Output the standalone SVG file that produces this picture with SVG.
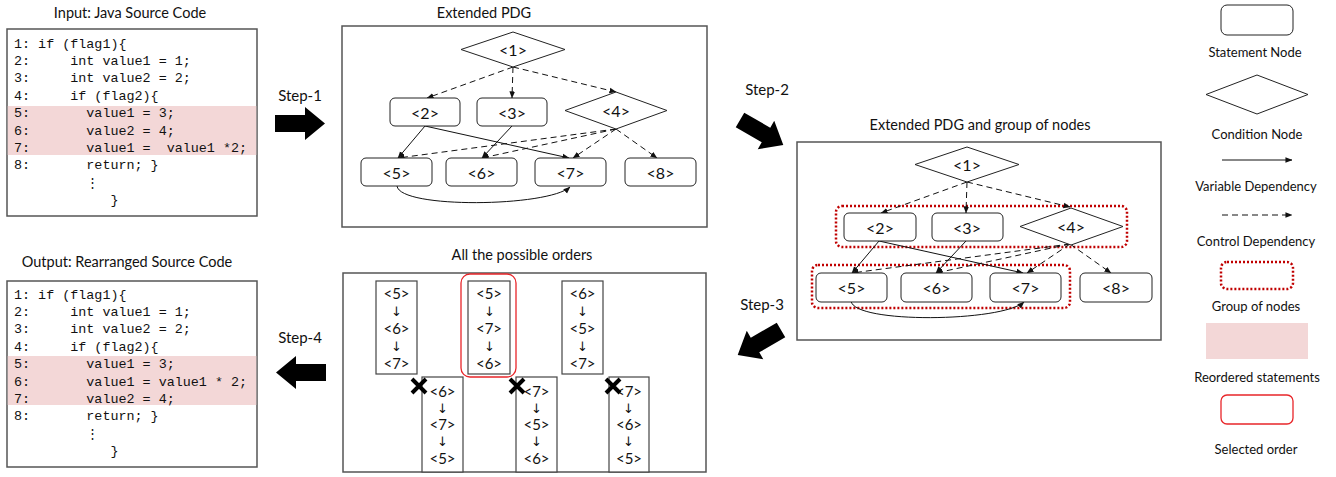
<svg xmlns="http://www.w3.org/2000/svg" width="1336" height="477" viewBox="0 0 1336 477">
  <style>
    .lbl { font-family: Lato, "Liberation Sans", sans-serif; font-size: 13px; fill: #111; text-anchor: middle; }
    .ttl { font-family: Lato, "Liberation Sans", sans-serif; font-size: 14.5px; fill: #111; text-anchor: middle; }
    .stp { font-family: Lato, "Liberation Sans", sans-serif; font-size: 15px; fill: #111; text-anchor: middle; }
    .nd { font-family: Lato, "Liberation Sans", sans-serif; font-size: 16px; fill: #111; text-anchor: middle; dominant-baseline: central; }
    .ord { font-family: Lato, "Liberation Sans", sans-serif; font-size: 15px; fill: #111; text-anchor: middle; dominant-baseline: central; }
    .dn { font-family: "DejaVu Sans", sans-serif; font-size: 13px; fill: #111; text-anchor: middle; dominant-baseline: central; }
    .code { font-family: "Liberation Mono", "DejaVu Sans Mono", monospace; font-size: 13.4px; fill: #111; white-space: pre; }
    .frame { fill: #fff; stroke: #555; stroke-width: 1.5; }
    .stmt { fill: #fff; stroke: #222; stroke-width: 1; }
    .cond { fill: #fff; stroke: #222; stroke-width: 1; }
    .hl { fill: #f3d7d7; }
    .var { fill: none; stroke: #111; stroke-width: 1; marker-end: url(#tip); }
    .ctl { fill: none; stroke: #111; stroke-width: 1; stroke-dasharray: 6 4; marker-end: url(#tip); }
    .grp { fill: none; stroke: #c00000; stroke-width: 2.5; stroke-dasharray: 2 2; }
    .sel { fill: none; stroke: #e8262a; stroke-width: 1.3; }
    .col { fill: #fff; stroke: #444; stroke-width: 1.2; }
    .step { fill: #000; }
    .cross { stroke: #000; stroke-width: 4; }
  </style>
  <defs>
    <marker id="tip" viewBox="0 0 8 8" refX="7.5" refY="4" markerWidth="7" markerHeight="7" markerUnits="userSpaceOnUse" orient="auto">
      <path d="M0,0.8 L8,4 L0,7.2 Z" fill="#111"/>
    </marker>
    <polygon id="blockArrow" points="0,-8.5 30,-8.5 30,-16.5 50,0 30,16.5 30,8.5 0,8.5"/>
  </defs>

  <!-- Input source code -->
  <g id="input-code">
    <text class="ttl" x="130" y="18">Input: Java Source Code</text>
    <rect class="frame" x="7" y="29" width="250" height="187"/>
    <rect class="hl" x="7.75" y="106" width="248.5" height="49"/>
    <text class="code" x="14" y="47.5">1: if (flag1){</text>
    <text class="code" x="14" y="64.9">2:     int value1 = 1;</text>
    <text class="code" x="14" y="82.3">3:     int value2 = 2;</text>
    <text class="code" x="14" y="99.7">4:     if (flag2){</text>
    <text class="code" x="14" y="117.1">5:       value1 = 3;</text>
    <text class="code" x="14" y="134.5">6:       value2 = 4;</text>
    <text class="code" x="14" y="151.9">7:       value1 =  value1 *2;</text>
    <text class="code" x="14" y="169.3">8:       return; }</text>
    <text class="code" x="14" y="186.7">         ⋮</text>
    <text class="code" x="14" y="204.1">            }</text>
  </g>

  <!-- Output source code -->
  <g id="output-code" transform="translate(0,251)">
    <text class="ttl" x="127" y="16">Output: Rearranged Source Code</text>
    <rect class="frame" x="7" y="30" width="250" height="186"/>
    <rect class="hl" x="7.75" y="105" width="248.5" height="49"/>
    <text class="code" x="14" y="47.5">1: if (flag1){</text>
    <text class="code" x="14" y="64.9">2:     int value1 = 1;</text>
    <text class="code" x="14" y="82.3">3:     int value2 = 2;</text>
    <text class="code" x="14" y="99.7">4:     if (flag2){</text>
    <text class="code" x="14" y="117.1">5:       value1 = 3;</text>
    <text class="code" x="14" y="134.5">6:       value1 = value1 * 2;</text>
    <text class="code" x="14" y="151.9">7:       value2 = 4;</text>
    <text class="code" x="14" y="169.3">8:       return; }</text>
    <text class="code" x="14" y="186.7">         ⋮</text>
    <text class="code" x="14" y="204.1">            }</text>
  </g>

  <!-- Step arrows -->
  <g id="step-1">
    <text class="stp" x="300" y="101">Step-1</text>
    <use href="#blockArrow" class="step" transform="translate(275,123.5)"/>
  </g>
  <g id="step-2">
    <text class="stp" x="767" y="95">Step-2</text>
    <use href="#blockArrow" class="step" transform="translate(740,120) rotate(30)"/>
  </g>
  <g id="step-3">
    <text class="stp" x="762" y="310">Step-3</text>
    <use href="#blockArrow" class="step" transform="translate(781,330) rotate(150)"/>
  </g>
  <g id="step-4">
    <text class="stp" x="300" y="343">Step-4</text>
    <use href="#blockArrow" class="step" transform="translate(326,372.5) rotate(180)"/>
  </g>

  <!-- Extended PDG -->
  <g id="pdg">
    <text class="ttl" x="484" y="18">Extended PDG</text>
    <rect class="frame" x="342" y="26" width="365" height="201"/>
    <g id="pdg-connectors">
      <path class="ctl" d="M513,67 L427,98"/>
      <path class="ctl" d="M513,67 L512,98"/>
      <path class="ctl" d="M513,67 L616,92"/>
      <path class="ctl" d="M616,129 L398,158"/>
      <path class="ctl" d="M616,129 L482,158"/>
      <path class="ctl" d="M616,129 L573,158"/>
      <path class="ctl" d="M616,129 L657,158"/>
      <path class="var" d="M425,126 L398,158"/>
      <path class="var" d="M425,126 L569,158"/>
      <path class="var" d="M512,126 L482,158"/>
      <path class="var" d="M397,186 C400,209 548,207 570,187"/>
    </g>
    <g id="pdg-n1"><polygon class="cond" points="461,49.5 513,32 565,49.5 513,67"/><text class="nd" x="513" y="49.5">&lt;1&gt;</text></g>
    <g id="pdg-n2"><rect class="stmt" x="390" y="98" width="70" height="28" rx="5"/><text class="nd" x="425" y="112">&lt;2&gt;</text></g>
    <g id="pdg-n3"><rect class="stmt" x="477" y="98" width="70" height="28" rx="5"/><text class="nd" x="512" y="112">&lt;3&gt;</text></g>
    <g id="pdg-n4"><polygon class="cond" points="565,110.5 616,92 667,110.5 616,129"/><text class="nd" x="616" y="110.5">&lt;4&gt;</text></g>
    <g id="pdg-n5"><rect class="stmt" x="361" y="158" width="71" height="28" rx="5"/><text class="nd" x="396.5" y="172">&lt;5&gt;</text></g>
    <g id="pdg-n6"><rect class="stmt" x="446" y="158" width="71" height="28" rx="5"/><text class="nd" x="481.5" y="172">&lt;6&gt;</text></g>
    <g id="pdg-n7"><rect class="stmt" x="535" y="158" width="71" height="28" rx="5"/><text class="nd" x="570.5" y="172">&lt;7&gt;</text></g>
    <g id="pdg-n8"><rect class="stmt" x="625" y="158" width="71" height="28" rx="5"/><text class="nd" x="660.5" y="172">&lt;8&gt;</text></g>
  </g>

  <!-- Extended PDG with node groups -->
  <g id="pdg-groups">
    <text class="ttl" x="980" y="130">Extended PDG and group of nodes</text>
    <g transform="translate(454,115)">
      <rect class="frame" x="343" y="27" width="364" height="198"/>
      <rect class="grp" x="382" y="91" width="291" height="41" rx="6"/>
      <rect class="grp" x="358" y="150" width="258" height="43" rx="6"/>
      <g id="grp-connectors">
        <path class="ctl" d="M513,67 L427,98"/>
        <path class="ctl" d="M513,67 L512,98"/>
        <path class="ctl" d="M513,67 L616,92"/>
        <path class="ctl" d="M616,129 L398,158"/>
        <path class="ctl" d="M616,129 L482,158"/>
        <path class="ctl" d="M616,129 L573,158"/>
        <path class="ctl" d="M616,129 L657,158"/>
        <path class="var" d="M425,126 L398,158"/>
        <path class="var" d="M425,126 L569,158"/>
        <path class="var" d="M512,126 L482,158"/>
        <path class="var" d="M397,186 C400,209 548,207 570,187"/>
      </g>
      <g id="grp-n1"><polygon class="cond" points="461,49.5 513,32 565,49.5 513,67"/><text class="nd" x="513" y="49.5">&lt;1&gt;</text></g>
      <g id="grp-n2"><rect class="stmt" x="390" y="98" width="72" height="28" rx="5"/><text class="nd" x="426" y="112">&lt;2&gt;</text></g>
      <g id="grp-n3"><rect class="stmt" x="478" y="98" width="71" height="28" rx="5"/><text class="nd" x="513" y="112">&lt;3&gt;</text></g>
      <g id="grp-n4"><polygon class="cond" points="566,111.5 617,93 669,111.5 617,130"/><text class="nd" x="617" y="111.5">&lt;4&gt;</text></g>
      <g id="grp-n5"><rect class="stmt" x="362" y="158" width="71" height="29" rx="5"/><text class="nd" x="397.5" y="172.5">&lt;5&gt;</text></g>
      <g id="grp-n6"><rect class="stmt" x="447" y="158" width="71" height="29" rx="5"/><text class="nd" x="482.5" y="172.5">&lt;6&gt;</text></g>
      <g id="grp-n7"><rect class="stmt" x="536" y="158" width="71" height="29" rx="5"/><text class="nd" x="571.5" y="172.5">&lt;7&gt;</text></g>
      <g id="grp-n8"><rect class="stmt" x="626" y="158" width="72" height="29" rx="5"/><text class="nd" x="662" y="172.5">&lt;8&gt;</text></g>
    </g>
  </g>

  <!-- All possible orders -->
  <g id="orders">
    <text class="ttl" x="522" y="260">All the possible orders</text>
    <rect class="frame" x="343" y="273" width="363" height="199"/>
    <g id="order-567">
      <rect class="col" x="376" y="281" width="41" height="93"/>
      <text class="ord" x="396.5" y="293">&lt;5&gt;</text><text class="dn" x="396.5" y="311">↓</text>
      <text class="ord" x="396.5" y="328">&lt;6&gt;</text><text class="dn" x="396.5" y="346">↓</text>
      <text class="ord" x="396.5" y="363">&lt;7&gt;</text>
    </g>
    <g id="order-576">
      <rect class="sel" x="461" y="274" width="55" height="103" rx="9"/>
      <rect class="col" x="468" y="281" width="42" height="93"/>
      <text class="ord" x="489" y="293">&lt;5&gt;</text><text class="dn" x="489.5" y="311">↓</text>
      <text class="ord" x="489" y="328">&lt;7&gt;</text><text class="dn" x="489.5" y="346">↓</text>
      <text class="ord" x="489" y="363">&lt;6&gt;</text>
    </g>
    <g id="order-657">
      <rect class="col" x="562" y="281" width="41" height="93"/>
      <text class="ord" x="582.5" y="293">&lt;6&gt;</text><text class="dn" x="582.5" y="311">↓</text>
      <text class="ord" x="582.5" y="328">&lt;5&gt;</text><text class="dn" x="582.5" y="346">↓</text>
      <text class="ord" x="582.5" y="363">&lt;7&gt;</text>
    </g>
    <g id="order-675">
      <rect class="col" x="422" y="377" width="41" height="95"/>
      <text class="ord" x="442.5" y="391">&lt;6&gt;</text><text class="dn" x="442.5" y="408">↓</text>
      <text class="ord" x="442.5" y="424">&lt;7&gt;</text><text class="dn" x="442.5" y="441">↓</text>
      <text class="ord" x="442.5" y="458">&lt;5&gt;</text>
      <path class="cross" d="M412,379 L426,393 M426,379 L412,393"/>
    </g>
    <g id="order-756">
      <rect class="col" x="516" y="377" width="41" height="95"/>
      <text class="ord" x="536.5" y="391">&lt;7&gt;</text><text class="dn" x="536.5" y="408">↓</text>
      <text class="ord" x="536.5" y="424">&lt;5&gt;</text><text class="dn" x="536.5" y="441">↓</text>
      <text class="ord" x="536.5" y="458">&lt;6&gt;</text>
      <path class="cross" d="M510,379 L524,393 M524,379 L510,393"/>
    </g>
    <g id="order-765">
      <rect class="col" x="609" y="377" width="40" height="95"/>
      <text class="ord" x="629" y="391">&lt;7&gt;</text><text class="dn" x="628.5" y="408">↓</text>
      <text class="ord" x="629" y="424">&lt;6&gt;</text><text class="dn" x="628.5" y="441">↓</text>
      <text class="ord" x="629" y="458">&lt;5&gt;</text>
      <path class="cross" d="M606,379 L620,393 M620,379 L606,393"/>
    </g>
  </g>

  <!-- Legend -->
  <g id="legend">
    <g id="legend-statement">
      <rect class="stmt" x="1221" y="5" width="72" height="30" rx="6"/>
      <text class="lbl" x="1255" y="57">Statement Node</text>
    </g>
    <g id="legend-condition">
      <polygon class="cond" points="1206,94.5 1257,75 1308,94.5 1257,114"/>
      <text class="lbl" x="1257" y="139">Condition Node</text>
    </g>
    <g id="legend-variable">
      <path class="var" d="M1222,160 L1292,160"/>
      <text class="lbl" x="1256" y="191">Variable Dependency</text>
    </g>
    <g id="legend-control">
      <path class="ctl" d="M1222,215 L1292,215"/>
      <text class="lbl" x="1256" y="246">Control Dependency</text>
    </g>
    <g id="legend-group">
      <rect class="grp" x="1221" y="262" width="72" height="27" rx="6"/>
      <text class="lbl" x="1256" y="311">Group of nodes</text>
    </g>
    <g id="legend-reordered">
      <rect class="hl" x="1206" y="323" width="102" height="36"/>
      <text class="lbl" x="1257" y="382">Reordered statements</text>
    </g>
    <g id="legend-selected">
      <rect class="sel" x="1221" y="395" width="72" height="29" rx="6"/>
      <text class="lbl" x="1256" y="454">Selected order</text>
    </g>
  </g>
</svg>
